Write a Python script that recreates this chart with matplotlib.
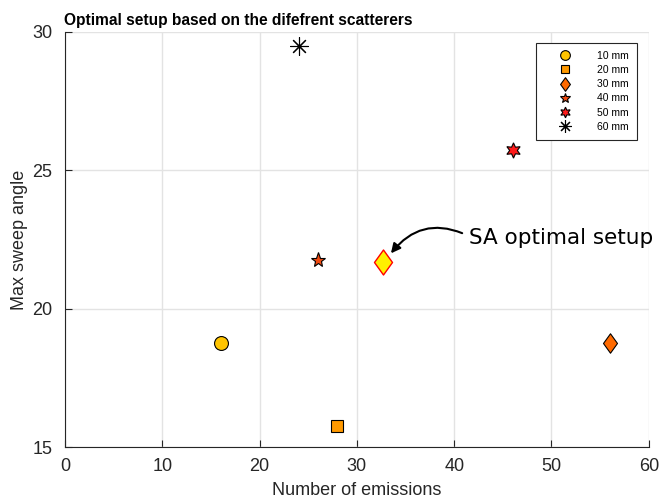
import matplotlib
matplotlib.use("Agg")
import matplotlib.pyplot as plt
from matplotlib.path import Path

labels = ["10 mm", "20 mm", "30 mm", "40 mm", "50 mm", "60 mm"]
emissions = [16, 28, 56, 26, 46, 24]
sweep = [18.75, 15.75, 18.75, 21.75, 25.75, 29.5]
optimal_x = [32.7]
optimal_y = [21.7]

diamond = Path([(0, 1), (0.72, 0), (0, -1), (-0.72, 0), (0, 1)],
               [Path.MOVETO, Path.LINETO, Path.LINETO, Path.LINETO, Path.CLOSEPOLY])

markers = ["o", "s", diamond, "*", (6, 1, 0), (8, 2, 0)]
colors = ["#FFC400", "#FF9900", "#FF6A00", "#F04A10", "#FF1A1A", "black"]
sizes = [10, 8, 14, 11, 11, 13]

plt.rcParams['font.family'] = ['Liberation Sans', 'DejaVu Sans']
fig = plt.figure(figsize=(6.6, 5.03), dpi=100)
ax = fig.add_axes([0.0985, 0.1113, 0.8845, 0.8251])

for x, y, lab, m, c, s in zip(emissions, sweep, labels, markers, colors, sizes):
    ax.plot([x], [y], linestyle='none', marker=m, markersize=s,
            markerfacecolor=c, markeredgecolor='black', color='black',
            markeredgewidth=0.8, label=lab)

ax.plot(optimal_x, optimal_y, linestyle='none', marker=diamond, markersize=18,
        markerfacecolor='#FFF000', markeredgecolor='red', markeredgewidth=1.0)

ax.annotate("SA optimal setup", xy=(33.5, 22.0), xytext=(41.5, 22.55),
            fontsize=15.5, family='DejaVu Sans', va='center', ha='left',
            arrowprops=dict(arrowstyle='-|>', color='black', lw=1.5,
                            connectionstyle='arc3,rad=0.4', shrinkA=3, shrinkB=0,
                            mutation_scale=14, relpos=(0, 0.6)))

ax.set_xlim(0, 60)
ax.set_ylim(15, 30)
ax.set_xticks([0, 10, 20, 30, 40, 50, 60])
ax.set_yticks([15, 20, 25, 30])
ax.grid(True, color='#E3E3E3', linewidth=1.0)
ax.set_axisbelow(True)
ax.spines['top'].set_visible(False)
ax.spines['right'].set_visible(False)
for sp in ['left', 'bottom']:
    ax.spines[sp].set_color('#262626')
    ax.spines[sp].set_linewidth(0.8)
ax.tick_params(direction='in', labelsize=13, colors='#262626', length=5)
ax.tick_params(axis='x', pad=8)
ax.tick_params(axis='y', pad=9)
ax.set_xlabel("Number of emissions", fontsize=13, color='#262626', labelpad=5)
ax.set_ylabel("Max sweep angle", fontsize=13, color='#262626', labelpad=3)
ax.set_title("Optimal setup based on the difefrent scatterers", fontsize=11.2,
             fontweight='bold', loc='left', x=-0.002, pad=5)

leg = ax.legend(loc='upper right', bbox_to_anchor=(0.986, 0.982), fontsize=7.5,
                frameon=True, fancybox=False, edgecolor='#262626', framealpha=1,
                handlelength=4.0, handletextpad=1.1, labelspacing=0.4,
                borderpad=0.8, markerscale=0.7, borderaxespad=0.3)
leg.get_frame().set_linewidth(0.8)

fig.savefig("out.png", dpi=100)
